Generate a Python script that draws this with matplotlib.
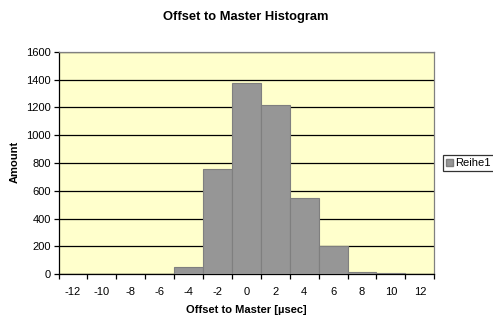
import matplotlib
matplotlib.use("Agg")
import matplotlib.pyplot as plt
from matplotlib.patches import Patch

categories = ["-12", "-10", "-8", "-6", "-4", "-2", "0", "2", "4", "6", "8", "10", "12"]
amounts = [0, 0, 0, 5, 50, 760, 1375, 1215, 545, 205, 15, 8, 0]
series_name = "Reihe1"
yticks = [0, 200, 400, 600, 800, 1000, 1200, 1400, 1600]

plt.rcParams['font.family'] = ['Liberation Sans', 'DejaVu Sans']

fig = plt.figure(figsize=(4.93, 3.27), dpi=100)
ax = fig.add_axes([58.5/493, 1-274.3/327, (434.3-58.5)/493, (274.3-51.7)/327])
ax.set_facecolor('#FFFFCC')

x = list(range(len(categories)))
ax.bar(x, amounts, width=1.0, color='#969696', edgecolor='#7F7F7F', linewidth=0.8, zorder=3)

ax.set_xlim(-0.5, len(categories) - 0.5)
ax.set_ylim(0, 1600)
ax.set_yticks(yticks)
ax.set_yticklabels([str(v) for v in yticks], fontsize=8)
ax.yaxis.grid(True, color='black', linewidth=0.9, zorder=1)
ax.set_axisbelow(True)

ax.set_xticks(x)
ax.set_xticklabels(categories, fontsize=8)
ax.set_xticks([i - 0.5 for i in range(len(categories) + 1)], minor=True)
ax.tick_params(axis='x', which='major', length=0, pad=9)
ax.tick_params(axis='x', which='minor', length=3.5, width=0.9, direction='out', color='black')
ax.tick_params(axis='y', which='major', length=3.5, width=0.9, direction='out', pad=2)

for s in ['left', 'bottom']:
    ax.spines[s].set_color('black')
    ax.spines[s].set_linewidth(0.9)
for s in ['top', 'right']:
    ax.spines[s].set_color('#808080')
    ax.spines[s].set_linewidth(0.9)

fig.text(246/493, 1-17/327, "Offset to Master Histogram", ha='center', va='center',
         fontsize=9.3, fontweight='bold')
ax.set_xlabel("Offset to Master [µsec]", fontsize=8, fontweight='bold', labelpad=6)
fig.text(15/493, 1-162/327, "Amount", rotation=90, ha='center', va='center',
         fontsize=8, fontweight='bold')

leg = fig.legend(handles=[Patch(facecolor='#969696', edgecolor='#7F7F7F', label=series_name)],
                 loc='center left', bbox_to_anchor=(443/493, 1-163/327),
                 fontsize=8, frameon=True, fancybox=False, borderpad=0.3,
                 handlelength=0.6, handleheight=0.6, handletextpad=0.2, borderaxespad=0)
leg.get_frame().set_edgecolor('black')
leg.get_frame().set_linewidth(0.9)

fig.savefig("out.png", dpi=100)
